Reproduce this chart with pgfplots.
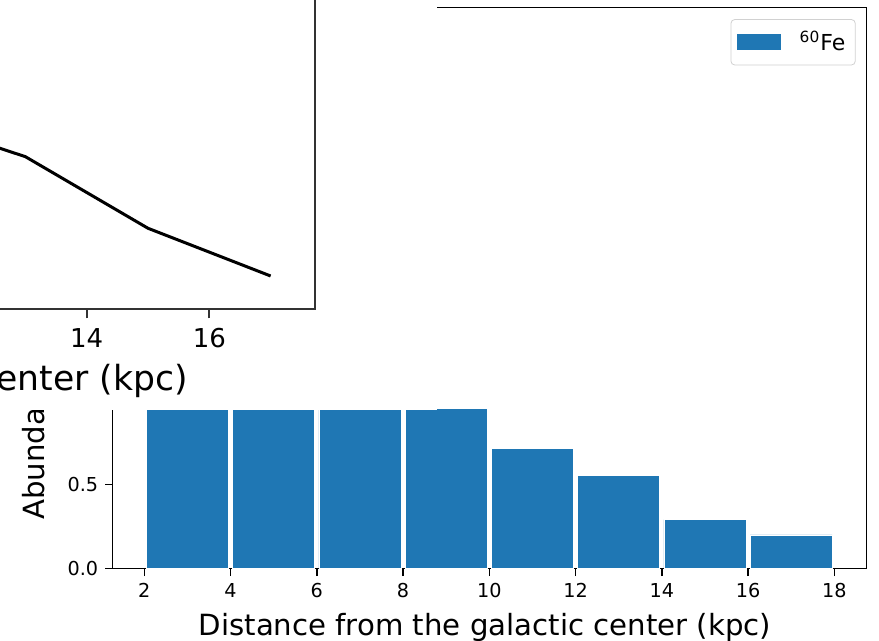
\documentclass[border=0pt]{standalone}
\usepackage{fontspec}
\setmainfont{DejaVu Sans}
\usepackage{pgfplots}
\pgfplotsset{compat=1.18}
\definecolor{barblue}{HTML}{1F77B4}

\begin{document}
\begin{tikzpicture}
\useasboundingbox (0,0) rectangle (439.5pt,320.5pt);
\clip (0,0) rectangle (439.5pt,320.5pt);
\fill[white] (0,0) rectangle (439.5pt,320.5pt);

% radial histogram of 60Fe
\begin{axis}[
  at={(56.35pt,36.15pt)}, anchor=south west,
  scale only axis, width=377pt, height=280.7pt,
  xmin=1.267, xmax=18.751, ymin=0, ymax=3.326,
  xtick={2,4,...,18}, ytick={0,0.5,...,3},
  tick align=outside, tick pos=left, major tick length=3.75pt,
  every tick/.style={black, line width=0.7pt},
  axis line style={line width=0.7pt},
  tick label style={font=\fontsize{9.6}{11}\selectfont},
  /pgf/number format/assume math mode=true,
  yticklabel style={/pgf/number format/.cd, fixed, fixed zerofill, precision=1},
  xlabel={Distance from the galactic center (kpc)},
  ylabel={Abundance (normalized units)},
  label style={font=\fontsize{14.6}{17}\selectfont},
  xlabel style={at={(axis description cs:0.5,0)}, anchor=base, yshift=-33.5pt, xshift=-2.4pt},
  ylabel style={at={(axis description cs:-0.0898,0.0867)}, anchor=base west, inner sep=0pt},
  legend style={at={(axis description cs:0.9854,0.979)}, anchor=north east,
    draw=black!18, rounded corners=2pt, fill=white,
    font=\fontsize{11}{12}\selectfont, inner xsep=3pt, inner ysep=3.8pt},
  legend cell align=left,
]
\addplot[ybar, bar width=1.9, fill=barblue, draw=white, line width=0.4pt,
  legend image code/.code={%
    \fill[barblue, sharp corners] (0pt,-3.75pt) rectangle (21.5pt,3.75pt);
    \path (29pt,0pt);}]
  coordinates {(3,3.17) (5,2.10) (7,1.35) (9,0.948) (11,0.713) (13,0.553) (15,0.290) (17,0.200)};
\addlegendentry{\textsuperscript{60}Fe}
\end{axis}

% inset panel with the radial profile
\fill[white] (0,115.5pt) rectangle (218.35pt,320.5pt);
\begin{axis}[
  at={(-140.55pt,165.85pt)}, anchor=south west,
  scale only axis, width=298.05pt, height=200pt,
  xmin=8, xmax=17.724, ymin=0, ymax=4,
  xtick={10,12,14,16}, ytick=\empty,
  axis line style={line width=1.2pt, black!80},
  tick align=outside, tick pos=left, major tick length=4.5pt,
  every tick/.style={black!80, line width=1pt},
  tick label style={font=\fontsize{13}{15}\selectfont},
  xticklabel style={yshift=-1.5pt},
  /pgf/number format/assume math mode=true,
  xlabel={Distance from the galactic center (kpc)},
  xlabel style={at={(axis description cs:0.787,0)}, anchor=base east, yshift=-40.6pt,
    inner sep=0pt, font=\fontsize{17.3}{20}\selectfont},
]
\addplot[black, line width=1.5pt] coordinates {(11,1.93) (13,1.526) (15,0.810) (17,0.333)};
\end{axis}
\end{tikzpicture}
\end{document}
